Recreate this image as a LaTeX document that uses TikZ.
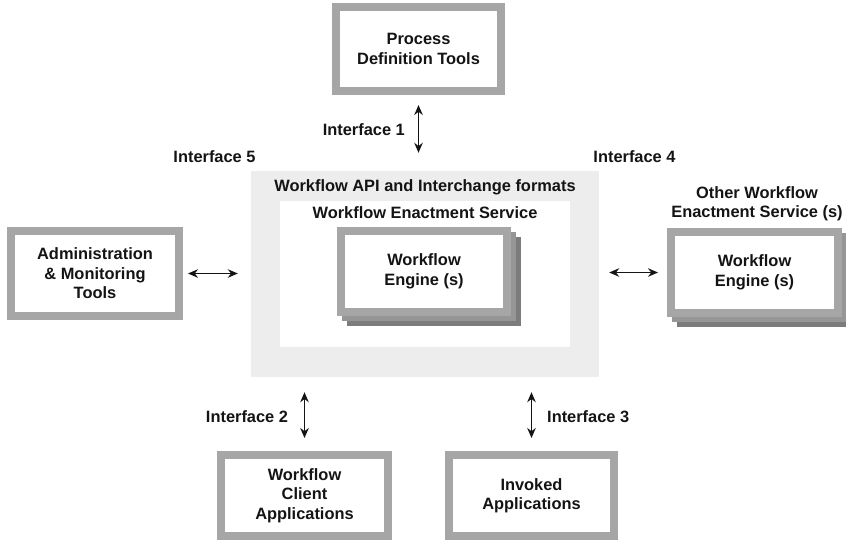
\documentclass[tikz,border=0pt]{standalone}
\usepackage{fontspec}
\setmainfont{Liberation Sans}
\usetikzlibrary{arrows.meta}
\definecolor{bordergray}{HTML}{A6A6A6}
\definecolor{apigray}{HTML}{EDEDED}
\definecolor{layerone}{HTML}{969696}
\definecolor{layertwo}{HTML}{7C7C7C}
\definecolor{txt}{HTML}{141414}
\begin{document}
\begin{tikzpicture}[x=1pt,y=-1pt,
  txtfont/.style={font=\fontsize{16.4}{19.5}\selectfont\bfseries, text=txt},
  box/.style={draw=bordergray, line width=8pt, fill=white, align=center, txtfont, inner sep=0pt},
  lbl/.style={txtfont, inner sep=0pt, align=center},
  biarrow/.style={{Stealth[length=10pt,width=8.5pt]}-{Stealth[length=10pt,width=8.5pt]}, line width=1.7pt, draw=txt}]
\useasboundingbox (0,0) rectangle (846,542);

% central area
\node[fill=apigray, minimum width=348pt, minimum height=206pt, inner sep=0pt] (api) at (425,274) {};
\node[fill=white, minimum width=290pt, minimum height=146pt, inner sep=0pt] (wes) at (425,274) {};
\node[lbl] (apilbl) at (425,187) {Workflow API and Interchange formats};
\node[lbl] (weslbl) at (425,213) {Workflow Enactment Service};

% engine stack (central)
\fill[layertwo] (347,237) rectangle (521,326);
\fill[layerone] (342,232) rectangle (516,321);
\node[box, minimum width=166pt, minimum height=81pt] (eng) at (424,271.5) {Workflow\\Engine (s)};

% other engine stack (right)
\fill[layertwo] (677,238) rectangle (852,327);
\fill[layerone] (672,233) rectangle (847,322);
\node[box, minimum width=167pt, minimum height=81pt] (oth) at (754.5,272.5) {Workflow\\Engine (s)};
\node[lbl] (othlbl) at (757,204) {Other Workflow\\Enactment Service (s)};

% outer boxes
\node[box, minimum width=165pt, minimum height=84pt] (pdt) at (418.5,49) {Process\\Definition Tools};
\node[box, minimum width=168pt, minimum height=85pt] (adm) at (95,273.5) {Administration\\\& Monitoring\\Tools};
\node[box, minimum width=167pt, minimum height=81pt] (cli) at (304.5,495.5) {Workflow\\Client\\Applications};
\node[box, minimum width=165pt, minimum height=81pt] (inv) at (531.5,495.5) {Invoked\\Applications};

% interface labels
\node[lbl, anchor=east] (if1) at (405,130) {Interface 1};
\node[lbl] (if5) at (214.5,157) {Interface 5};
\node[lbl] (if4) at (634.5,157) {Interface 4};
\node[lbl] (if2) at (247,417) {Interface 2};
\node[lbl, anchor=west] (if3) at (547,417) {Interface 3};

% connectors
\draw[biarrow, shorten <=10pt, shorten >=18pt] (pdt.south) -- (pdt.south |- api.north);
\draw[biarrow, shorten <=5pt, shorten >=13pt] (adm.east) -- (adm.east -| api.west);
\draw[biarrow, shorten <=10pt, shorten >=9pt] (api.east |- oth.west) -- (oth.west);
\draw[biarrow, shorten <=15pt, shorten >=13pt] (api.south -| cli.north) -- (cli.north);
\draw[biarrow, shorten <=15pt, shorten >=13pt] (api.south -| inv.north) -- (inv.north);
\end{tikzpicture}
\end{document}
